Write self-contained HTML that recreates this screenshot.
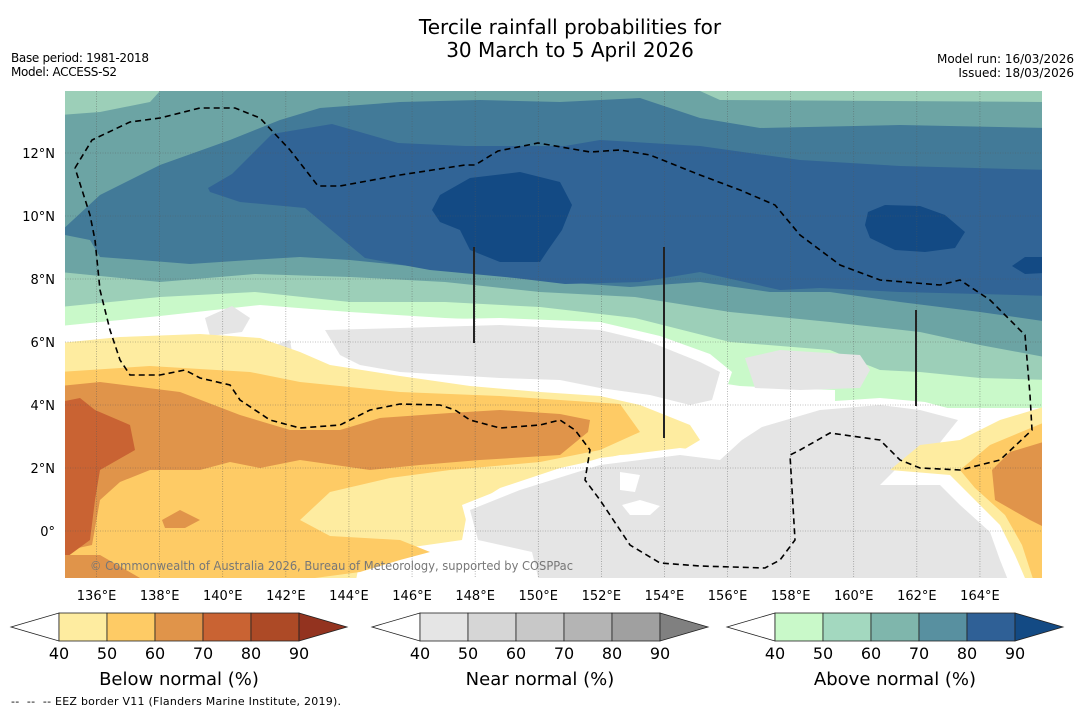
<!DOCTYPE html>
<html><head><meta charset="utf-8"><style>
body{margin:0;background:#fff;width:1085px;height:713px;overflow:hidden;font-family:"Liberation Sans","DejaVu Sans",sans-serif}
svg{position:absolute;left:0;top:0}
</style></head><body>
<svg width="1085" height="713" xmlns="http://www.w3.org/2000/svg">
<text x="570" y="34" font-size="20" text-anchor="middle" font-family="DejaVu Sans,sans-serif">Tercile rainfall probabilities for</text>
<text x="570" y="57" font-size="20" text-anchor="middle" font-family="DejaVu Sans,sans-serif">30 March to 5 April 2026</text>
<text x="11" y="62" font-size="12" font-family="DejaVu Sans,sans-serif" textLength="138">Base period: 1981-2018</text>
<text x="11" y="76" font-size="12" font-family="DejaVu Sans,sans-serif" textLength="106">Model: ACCESS-S2</text>
<text x="1074" y="63" font-size="12" text-anchor="end" font-family="DejaVu Sans,sans-serif">Model run: 16/03/2026</text>
<text x="1074" y="77" font-size="12" text-anchor="end" font-family="DejaVu Sans,sans-serif">Issued: 18/03/2026</text>
<defs><clipPath id="mc"><rect x="65" y="91" width="977" height="487"/></clipPath></defs>
<g clip-path="url(#mc)" id="map">
<rect x="65" y="91" width="977" height="487" fill="#ffffff"/>
<polygon fill="#c9f9c9" points="60,85 1050,85 1050,408 920,408 835,405 835,390 780,388 740,386 700,380 680,350 635,332 540,322 445,318 350,312 260,305 160,316 60,326"/>
<polygon fill="#9ccfb8" points="60,85 1050,85 1050,380 980,378 920,372 880,370 830,350 730,342 635,318 540,307 445,302 350,302 255,292 160,297 60,307"/>
<polygon fill="#6ca4a4" points="60,115 100,112 150,102 160,91 700,91 720,100 1050,102 1050,358 980,345 920,332 830,322 730,312 635,297 540,292 445,282 350,277 255,274 160,282 60,272"/>
<polygon fill="#427a98" points="60,232 100,195 160,165 230,140 280,120 320,108 400,102 480,100 560,102 640,98 700,118 760,128 900,125 1050,128 1050,322 980,312 900,302 830,292 770,292 700,282 630,287 560,282 480,272 420,267 350,260 300,257 250,260 190,264 140,260 100,257 90,240 60,234"/>
<polygon fill="#316496" points="208,188 232,174 272,134 332,124 398,143 465,146 565,146 600,140 700,146 800,160 900,166 1050,170 1050,296 980,294 900,292 820,288 780,290 700,272 640,282 565,284 515,278 430,270 365,258 305,208 240,202 210,192"/>
<polygon fill="#134a84" points="432,210 440,195 470,178 520,172 560,182 572,205 562,230 548,250 540,262 500,262 470,250 460,230 440,222"/>
<polygon fill="#134a84" points="868,212 885,205 920,206 945,215 965,232 955,248 925,252 895,250 870,238 865,225"/>
<polygon fill="#134a84" points="1012,266 1025,257 1045,257 1045,273 1025,274"/>
<polygon fill="#fff" points="310,322 400,320 500,318 600,322 660,336 710,354 732,372 720,408 690,412 650,402 600,395 560,388 500,386 450,382 400,380 355,372 330,360 315,340"/>
<polygon fill="#e5e5e5" points="325,330 400,328 500,325 600,330 650,342 700,362 720,372 712,400 690,405 650,395 600,388 560,380 500,378 450,375 400,372 360,365 340,355"/>
<polygon fill="#e5e5e5" points="745,358 780,350 860,355 870,370 860,388 800,390 755,388"/>
<polygon fill="#e5e5e5" points="205,318 232,306 250,318 242,332 210,336"/>
<polygon fill="#e5e5e5" points="275,345 290,340 292,352 278,356"/>
<polygon fill="#feeca0" points="60,343 120,337 200,334 260,338 300,352 330,365 400,376 470,386 540,392 600,396 640,405 690,425 700,440 680,452 620,455 560,468 500,488 468,508 462,540 420,546 380,552 360,560 355,585 60,585"/>
<polygon fill="#fecb65" points="60,372 150,366 250,372 300,382 400,392 500,396 560,400 620,404 640,432 600,450 540,462 450,470 390,478 330,492 300,520 330,536 400,540 430,552 400,560 360,572 300,580 60,580"/>
<polygon fill="#e0944a" points="60,386 100,382 180,392 240,415 290,430 340,430 380,418 450,413 500,410 560,414 590,420 588,432 560,455 480,460 420,465 370,470 300,460 260,468 230,462 200,470 150,470 120,482 100,500 92,545 60,552"/>
<polygon fill="#c96333" points="60,402 80,398 95,410 130,425 135,450 100,470 95,500 90,540 60,562"/>
<polygon fill="#e0944a" points="162,520 180,510 200,520 185,528 165,528"/>
<polygon fill="#e0944a" points="65,555 100,555 140,578 65,578"/>
<polygon fill="#fff" points="462,505 520,482 600,458 680,448 715,452 735,430 758,418 820,402 880,398 925,402 970,414 940,462 905,472 950,478 970,500 1000,528 1012,560 1022,585 530,585 522,552 470,535"/>
<polygon fill="#e5e5e5" points="470,510 520,490 600,465 680,455 720,460 742,440 762,427 820,410 880,405 920,410 958,420 930,455 900,465 880,485 940,485 960,505 990,532 1000,560 1010,585 540,585 532,552 478,540"/>
<polygon fill="#feeca0" points="890,470 920,445 960,440 1000,420 1050,405 1050,585 1028,585 1015,555 1000,525 970,495 950,475"/>
<polygon fill="#fecb65" points="960,470 990,445 1050,420 1050,585 1035,585 1022,545 1005,515 975,488"/>
<polygon fill="#e0944a" points="992,470 1010,452 1050,440 1050,530 1030,520 995,500"/>
<polygon fill="#fff" points="622,505 640,500 660,506 650,515 630,515"/>
<polygon fill="#fff" points="620,472 640,475 635,492 620,490"/>
<g id="grid"></g>
<polyline fill="none" stroke="#000" stroke-width="1.6" stroke-dasharray="6,4" points="75,168 92,140 130,122 160,118 200,108 235,108 260,118 290,150 318,186 340,186 400,175 465,165 475,165 498,151 538,143 590,152 620,150 650,155 700,175 740,190 775,205 800,235 840,265 880,280 940,285 960,280 990,300 1025,335 1030,395 1032,430 1000,460 960,470 920,468 900,460 880,440 830,433 800,450 790,455 795,540 780,560 765,568 700,566 660,563 630,545 600,500 585,480 590,450 575,430 560,420 540,425 500,428 470,420 455,410 440,405 400,404 370,410 340,425 300,428 270,420 240,400 230,385 200,378 185,370 160,375 130,375 120,360 110,330 100,290 95,240 90,215 75,168"/>
<line x1="474" y1="247" x2="474" y2="343" stroke="#222" stroke-width="2"/>
<line x1="664" y1="247" x2="664" y2="438" stroke="#222" stroke-width="2"/>
<line x1="916" y1="310" x2="916" y2="406" stroke="#222" stroke-width="2"/>
<text x="90" y="570" font-size="12" fill="#777" textLength="483" lengthAdjust="spacingAndGlyphs" font-family="DejaVu Sans,sans-serif">© Commonwealth of Australia 2026, Bureau of Meteorology, supported by COSPPac</text>
</g>
<g id="axes"></g>
<g id="cbars"></g>
<text x="11" y="705" font-size="11" font-family="DejaVu Sans,sans-serif" textLength="330">-- &#160;-- &#160;-- EEZ border V11 (Flanders Marine Institute, 2019).</text>
</svg>
<script>
const lonTicks=[136,138,140,142,144,146,148,150,152,154,156,158,160,162,164];
const latTicks=[12,10,8,6,4,2,0];
const cbTicks=[40,50,60,70,80,90];
const belowColors=["#feeca0","#fecb65","#e0944a","#c96333","#ad4a26"];
const nearColors=["#e5e5e5","#d6d6d6","#c8c8c8","#b4b4b4","#a0a0a0"];
const aboveColors=["#c9f9c9","#a3d8bf","#7fb6ac","#5890a0","#2f6096"];
const endColors=["#93331f","#808080","#134a84"];
const cbTitles=["Below normal (%)","Near normal (%)","Above normal (%)"];
const NS="http://www.w3.org/2000/svg";
const xLon=l=>65+(l-135)*31.55;
const yLat=l=>531-l*31.5;
function mk(t,a,p){const e=document.createElementNS(NS,t);for(const k in a)e.setAttribute(k,a[k]);p.appendChild(e);return e;}
const grid=document.getElementById('grid'),axes=document.getElementById('axes');
lonTicks.forEach(l=>{
 const g=mk('line',{x1:xLon(l),x2:xLon(l),y1:91,y2:578,stroke:'#555','stroke-width':0.6,'stroke-dasharray':'1,1.5','stroke-opacity':0.7},grid);
 
 
 const t=mk('text',{x:xLon(l),y:600,'font-size':13,'text-anchor':'middle','font-family':'DejaVu Sans,sans-serif'},axes);
 t.textContent=l+'°E';
 
 
});
latTicks.forEach(l=>{
 const g=mk('line',{x1:65,x2:1042,y1:yLat(l),y2:yLat(l),stroke:'#555','stroke-width':0.6,'stroke-dasharray':'1,1.5','stroke-opacity':0.7},grid);
 
 
 const t=mk('text',{x:55,y:yLat(l)+5,'font-size':13,'text-anchor':'end','font-family':'DejaVu Sans,sans-serif'},axes);
 t.textContent=l===0?'0°':l+'°N';
 
 
});
const cb=document.getElementById('cbars');
const starts=[59,420,775],palettes=[belowColors,nearColors,aboveColors];
starts.forEach((x0,i)=>{
 const step=48,y0=613,h=28,w=step*(cbTicks.length-1);
 const lt=mk('polygon',{points:`${x0-48},${y0+h/2} ${x0},${y0} ${x0},${y0+h}`,fill:'#fff',stroke:'#222','stroke-width':0.8},cb);
 
 
 palettes[i].forEach((c,j)=>{
  const r=mk('rect',{x:x0+j*step,y:y0,width:step,height:h,fill:c,stroke:'#222','stroke-width':0.8},cb);
  
  
 });
 const rt=mk('polygon',{points:`${x0+w},${y0} ${x0+w+48},${y0+h/2} ${x0+w},${y0+h}`,fill:endColors[i],stroke:'#222','stroke-width':0.8},cb);
 
 
 cbTicks.forEach((v,j)=>{
  const t=mk('text',{x:x0+j*step,y:659,'font-size':16,'text-anchor':'middle','font-family':'DejaVu Sans,sans-serif'},cb);
  t.textContent=v;
  
  
 });
 const tt=mk('text',{x:x0+w/2,y:685,'font-size':18,'text-anchor':'middle','font-family':'DejaVu Sans,sans-serif'},cb);
 tt.textContent=cbTitles[i];
 
 
});
</script>
</body></html>
